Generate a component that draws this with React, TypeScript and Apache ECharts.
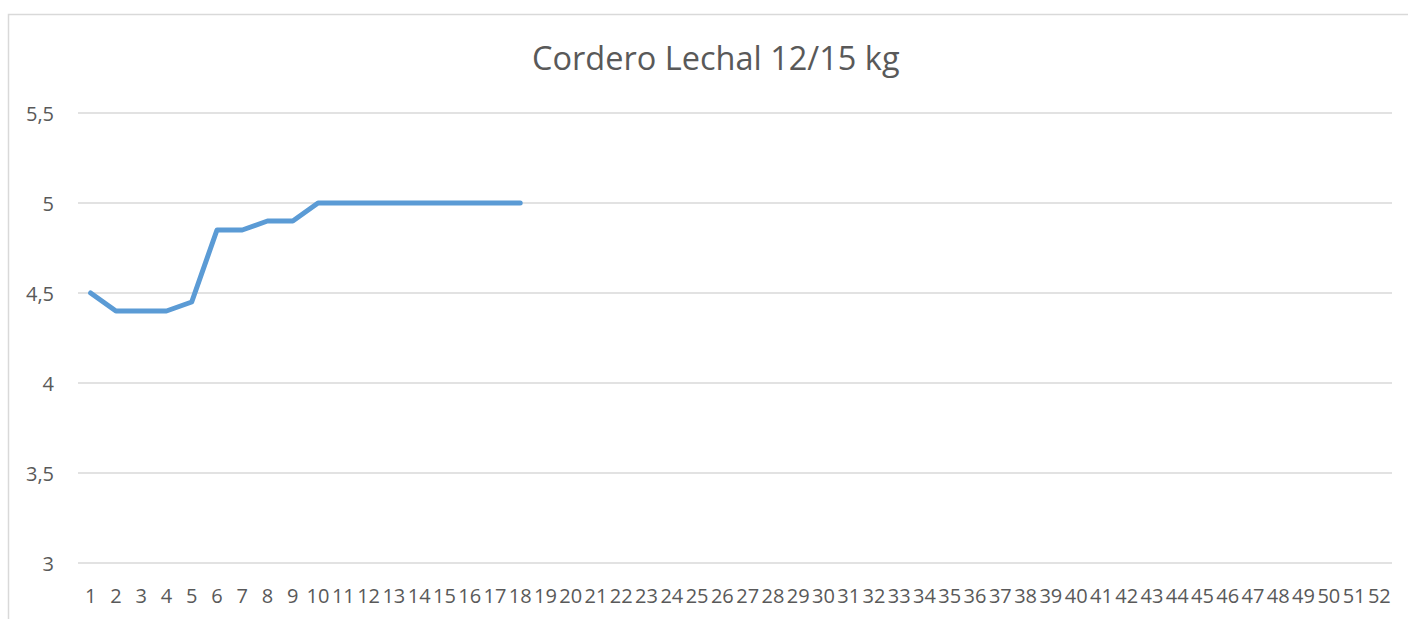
import React, { useEffect, useRef } from "react";
import * as echarts from "echarts";

const titleText = "Cordero Lechal 12/15 kg";
const categories: string[] = [];
for (let i = 1; i <= 52; i++) categories.push(String(i));
const values: (number | null)[] = [
  4.5, 4.4, 4.4, 4.4, 4.45, 4.85, 4.85, 4.9, 4.9, 5, 5, 5, 5, 5, 5, 5, 5, 5,
];
const yMin = 3;
const yMax = 5.5;
const yInterval = 0.5;

export default function App() {
  const ref = useRef<HTMLDivElement>(null);
  useEffect(() => {
    const chart = echarts.init(ref.current!, null, { renderer: "svg" });
    chart.setOption({
      animation: false,
      backgroundColor: "#ffffff",
      textStyle: { fontFamily: "Open Sans" },
      title: {
        text: titleText,
        left: 532,
        top: 41,
        padding: 0,
        textStyle: { fontSize: 32.5, fontWeight: "normal", color: "#595959", fontFamily: "Open Sans" },
      },
      graphic: [
        {
          type: "rect",
          shape: { x: 8.5, y: 14.5, width: 1420, height: 640 },
          style: { fill: "none", stroke: "#d9d9d9", lineWidth: 1.5 },
          silent: true,
        },
      ],
      grid: { left: 78, right: 16, top: 113, bottom: 56 },
      xAxis: {
        type: "category",
        data: categories,
        boundaryGap: true,
        axisLine: { show: false },
        axisTick: { show: false },
        axisLabel: { interval: 0, color: "#595959", fontSize: 20, margin: 22, fontFamily: "Open Sans" },
      },
      yAxis: {
        type: "value",
        min: yMin,
        max: yMax,
        interval: yInterval,
        axisLine: { show: false },
        axisTick: { show: false },
        splitLine: { lineStyle: { color: "#d9d9d9", width: 1.5 } },
        axisLabel: {
          color: "#595959",
          fontSize: 20,
          margin: 24,
          fontFamily: "Open Sans",
          formatter: (v: number) => String(v).replace(".", ","),
        },
      },
      series: [
        {
          type: "line",
          data: values,
          showSymbol: false,
          symbol: "none",
          lineStyle: { color: "#5b9bd5", width: 5, cap: "round", join: "round" },
        },
      ],
    });
    return () => chart.dispose();
  }, []);
  return (
    <div
      ref={ref}
      style={{ position: "fixed", left: 0, top: 0, width: 1408, height: 619 }}
    />
  );
}
